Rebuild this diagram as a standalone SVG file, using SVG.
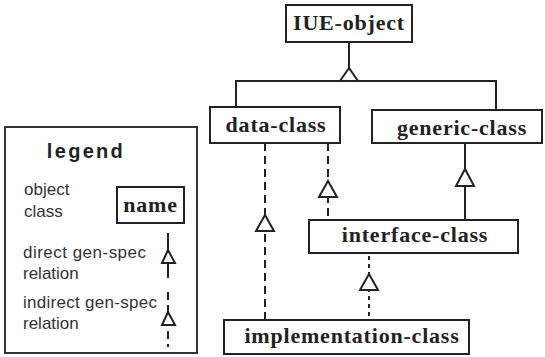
<svg xmlns="http://www.w3.org/2000/svg" width="545" height="357" viewBox="0 0 545 357">
<style>
.box{fill:#fff;stroke:#222;stroke-width:2}
.lbl{font-family:"Liberation Serif","Times New Roman",serif;font-weight:bold;font-size:22px;letter-spacing:0.8px;fill:#222}
.ln{stroke:#222;stroke-width:2;fill:none}
.dash{stroke:#222;stroke-width:2;fill:none;stroke-dasharray:8 5}
.dot{stroke:#222;stroke-width:2;fill:none;stroke-dasharray:4 4}
.tri{fill:#fff;stroke:#222;stroke-width:2;stroke-linejoin:miter}
.lg{font-family:"Liberation Sans",Arial,sans-serif;font-size:17px;fill:#333}
</style>
<rect width="545" height="357" fill="#fff"/>
<g id="connectors">
<path class="ln" d="M349 42V70M236 107V81H496V110"/>
<polygon class="tri" points="349,68 340,81 358,81"/>
<path class="dash" d="M265 143V320"/>
<polygon class="tri" points="265,215 256,231 274,231"/>
<path class="dash" d="M328 143V220"/>
<polygon class="tri" points="328,181 319,197 337,197"/>
<path class="ln" d="M465 143V220"/>
<polygon class="tri" points="465,169 456,186 474,186"/>
<path class="dot" d="M369 256V320"/>
<polygon class="tri" points="369,274 360,290 378,290"/>
</g>
<g id="IUE-object">
<rect class="box" x="286" y="5" width="126" height="37"/>
<text class="lbl" x="349" y="30" text-anchor="middle">IUE-object</text>
</g>
<g id="data-class">
<rect class="box" x="210" y="107" width="130" height="36"/>
<text class="lbl" x="276" y="132" text-anchor="middle">data-class</text>
</g>
<g id="generic-class">
<rect class="box" x="372" y="110" width="170" height="33"/>
<text class="lbl" x="462" y="135" text-anchor="middle">generic-class</text>
</g>
<g id="interface-class">
<rect class="box" x="309" y="220" width="209" height="33"/>
<text class="lbl" x="415" y="242" text-anchor="middle">interface-class</text>
</g>
<g id="implementation-class">
<rect class="box" x="224" y="320" width="245" height="34"/>
<text class="lbl" x="352" y="343" text-anchor="middle" letter-spacing="1">implementation-class</text>
</g>
<g id="legend">
<rect x="5" y="127" width="192" height="226" fill="#fff" stroke="#333" stroke-width="2"/>
<text x="86" y="158" text-anchor="middle" font-family="Liberation Sans,Arial,sans-serif" font-weight="bold" font-size="20" letter-spacing="2.3" fill="#222">legend</text>
<text class="lg" x="24" y="195">object</text>
<text class="lg" x="24" y="217">class</text>
<rect class="box" x="117" y="187" width="67" height="36"/>
<text class="lbl" x="150.5" y="212" text-anchor="middle" letter-spacing="0">name</text>
<text class="lg" x="23" y="258" textLength="123">direct gen-spec</text>
<text class="lg" x="23" y="279">relation</text>
<path class="ln" d="M168 233V278"/>
<polygon class="tri" points="168,250 162,263 175,263"/>
<text class="lg" x="23" y="308" textLength="134">indirect gen-spec</text>
<text class="lg" x="23" y="329">relation</text>
<path class="dash" d="M168 292V347" stroke-dasharray="5 4"/>
<polygon class="tri" points="168,312 162,325 175,325"/>
</g>
</svg>
